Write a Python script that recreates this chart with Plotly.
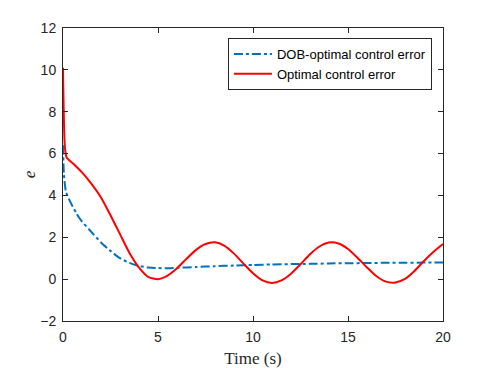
import plotly.graph_objects as go

# Time samples (s) and errors
t_dob = [0, 0.05, 0.15, 0.3, 0.7, 1.0, 1.4, 2.0, 2.5, 3.0, 3.5, 4.0, 4.5, 5.0, 5.5,
         6.0, 7.0, 8.0, 9.0, 10.0, 11.0, 12.0, 13.0, 14.0, 15.0, 16.0, 17.0, 18.0, 19.0, 20.0]
e_dob = [6.4, 5.0, 4.2, 3.85, 3.15, 2.75, 2.35, 1.75, 1.35, 1.0, 0.78, 0.63, 0.56, 0.53, 0.52,
         0.54, 0.58, 0.62, 0.65, 0.68, 0.70, 0.72, 0.73, 0.75, 0.76, 0.77, 0.78, 0.78, 0.79, 0.80]

t_opt = [0, 0.1, 0.2, 0.5, 1.0, 1.5, 2.0, 2.5, 3.0, 3.5, 4.0, 4.5, 5.0, 5.5,
         6.0, 6.5, 7.0, 7.5, 8.0, 8.5, 9.0, 9.5, 10.0, 10.5, 11.0, 11.5, 12.0, 12.5, 13.0,
         13.5, 14.0, 14.5, 15.0, 15.5, 16.0, 16.5, 17.0, 17.5, 18.0, 18.5, 19.0, 19.5, 20.0]
e_opt = [10.1, 6.3, 5.8, 5.55, 5.1, 4.55, 3.9, 3.05, 2.15, 1.25, 0.55, 0.1, 0.0, 0.17,
         0.52, 0.97, 1.4, 1.68, 1.76, 1.59, 1.22, 0.74, 0.28, -0.06, -0.18, -0.06, 0.26, 0.71, 1.19,
         1.56, 1.75, 1.70, 1.44, 1.02, 0.56, 0.14, -0.12, -0.16, 0.01, 0.39, 0.87, 1.31, 1.68]

x_ticks = [0, 5, 10, 15, 20]
y_ticks = [-2, 0, 2, 4, 6, 8, 10, 12]

AX_COLOR = '#262626'

fig = go.Figure()

fig.add_trace(go.Scatter(
    x=t_dob, y=e_dob, mode='lines',
    line=dict(color='#0072BD', width=2, dash='dashdot', shape='spline', smoothing=0.6),
    name='DOB-optimal control error'
))
fig.add_trace(go.Scatter(
    x=t_opt, y=e_opt, mode='lines',
    line=dict(color='#FF0000', width=2, shape='spline', smoothing=0.6),
    name='Optimal control error'
))

axis_common = dict(
    showline=True, linecolor=AX_COLOR, linewidth=1, mirror='ticks',
    ticks='inside', ticklen=5, tickcolor=AX_COLOR, tickwidth=1,
    showgrid=False, zeroline=False, ticklabelstandoff=3, automargin=False,
    tickfont=dict(family='Liberation Sans, Arial', size=14, color=AX_COLOR),
)

# the page body has an 8px margin, so the figure is a bit smaller than the window
fig.update_layout(
    width=483, height=360,
    paper_bgcolor='white', plot_bgcolor='white',
    margin=dict(l=55, r=48, t=20, b=47),
    xaxis=dict(range=[0, 20], tickvals=x_ticks,
               title=dict(text='Time (s)', standoff=8,
                          font=dict(family='Liberation Serif, Times New Roman', size=17, color=AX_COLOR)),
               **axis_common),
    yaxis=dict(range=[-2, 12], tickvals=y_ticks,
               title=dict(text='<i>e</i>', standoff=0,
                          font=dict(family='Liberation Serif, Times New Roman', size=17, color=AX_COLOR)),
               **axis_common),
    legend=dict(
        x=0.434, y=0.966, xanchor='left', yanchor='top',
        bgcolor='white', bordercolor=AX_COLOR, borderwidth=1,
        font=dict(family='Liberation Sans, Arial', size=13, color='black'),
        tracegroupgap=0, itemwidth=38,
    ),
    showlegend=True,
)

fig.write_html("out.html")
